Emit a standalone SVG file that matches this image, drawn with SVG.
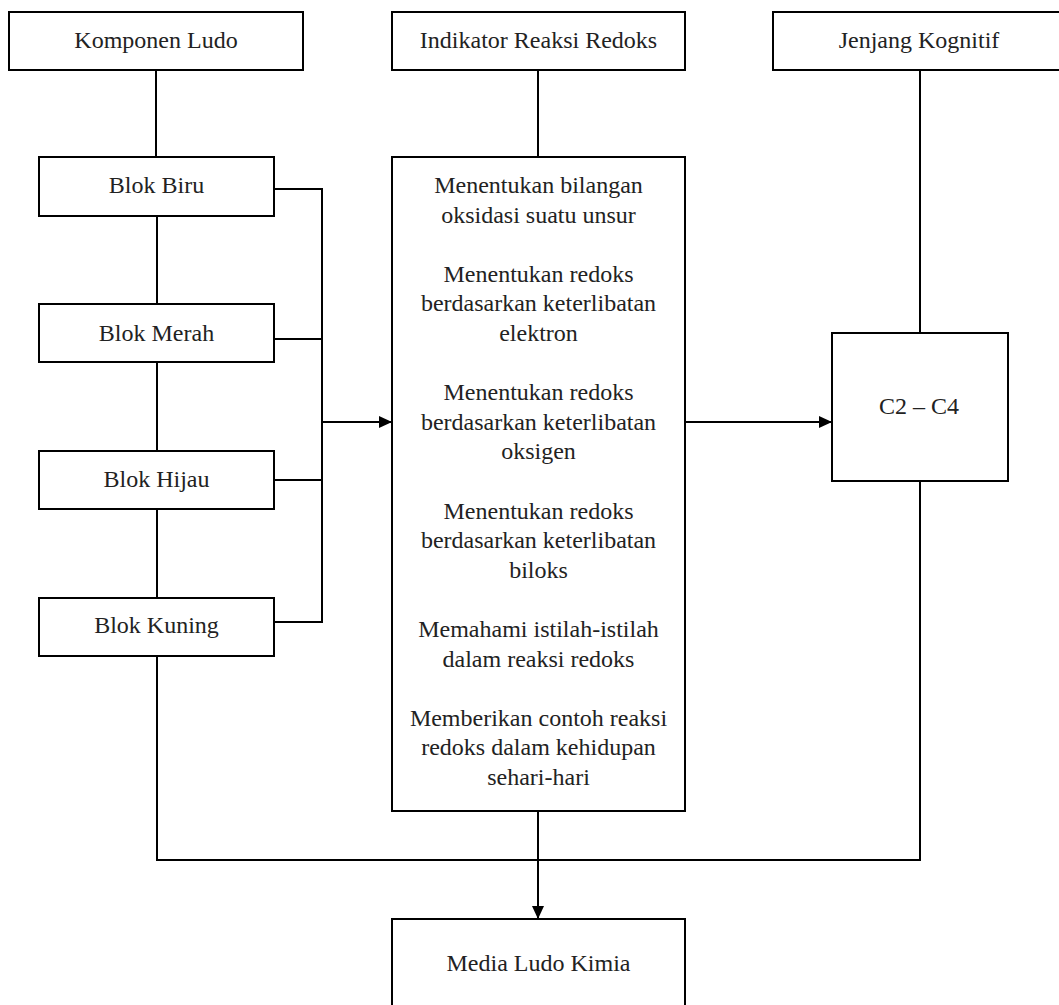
<svg xmlns="http://www.w3.org/2000/svg" width="1059" height="1005" viewBox="0 0 1059 1005">
<style>
.box{fill:#fff;stroke:#000;stroke-width:2}
.ln{fill:none;stroke:#000;stroke-width:2}
.t{font-family:"Times New Roman",Times,"Liberation Serif",Tinos,"DejaVu Serif",serif;font-size:24px;fill:#222;text-anchor:middle}
</style>
<defs>
<marker id="arr" markerUnits="userSpaceOnUse" markerWidth="13" markerHeight="12" refX="13" refY="6" orient="auto">
<path d="M0,0 L13,6 L0,12 z" fill="#000"/>
</marker>
</defs>
<rect width="1059" height="1005" fill="#fff"/>
<g id="connectors">
<path class="ln" d="M156,70 V157"/>
<path class="ln" d="M157,216 V304"/>
<path class="ln" d="M157,362 V451"/>
<path class="ln" d="M157,509 V598"/>
<path class="ln" d="M274,189 H322 V622 H274"/>
<path class="ln" d="M274,339 H322"/>
<path class="ln" d="M274,480 H322"/>
<path class="ln" d="M322,422 H392" marker-end="url(#arr)"/>
<path class="ln" d="M538,70 V157"/>
<path class="ln" d="M920,70 V333"/>
<path class="ln" d="M685,422 H832" marker-end="url(#arr)"/>
<path class="ln" d="M157,656 V860 H920 V481"/>
<path class="ln" d="M538,811 V919" marker-end="url(#arr)"/>
</g>
<g class="t">
<g id="komponen-ludo"><rect class="box" x="9" y="12" width="294" height="58"/><text x="156" y="48">Komponen Ludo</text></g>
<g id="indikator"><rect class="box" x="392" y="12" width="293" height="58"/><text x="538.5" y="48">Indikator Reaksi Redoks</text></g>
<g id="jenjang"><rect class="box" x="773" y="12" width="294" height="58"/><text x="919" y="48">Jenjang Kognitif</text></g>
<g id="blok-biru"><rect class="box" x="39" y="157" width="235" height="59"/><text x="156.5" y="193">Blok Biru</text></g>
<g id="blok-merah"><rect class="box" x="39" y="304" width="235" height="58"/><text x="156.5" y="341">Blok Merah</text></g>
<g id="blok-hijau"><rect class="box" x="39" y="451" width="235" height="58"/><text x="156.5" y="487">Blok Hijau</text></g>
<g id="blok-kuning"><rect class="box" x="39" y="598" width="235" height="58"/><text x="156.5" y="633">Blok Kuning</text></g>
<g id="indikator-list"><rect class="box" x="392" y="157" width="293" height="654"/>
<text x="538.5" y="193">Menentukan bilangan</text>
<text x="538.5" y="222.6">oksidasi suatu unsur</text>
<text x="538.5" y="281.8">Menentukan redoks</text>
<text x="538.5" y="311.4">berdasarkan keterlibatan</text>
<text x="538.5" y="341">elektron</text>
<text x="538.5" y="400.2">Menentukan redoks</text>
<text x="538.5" y="429.8">berdasarkan keterlibatan</text>
<text x="538.5" y="459.4">oksigen</text>
<text x="538.5" y="518.6">Menentukan redoks</text>
<text x="538.5" y="548.2">berdasarkan keterlibatan</text>
<text x="538.5" y="577.8">biloks</text>
<text x="538.5" y="637">Memahami istilah-istilah</text>
<text x="538.5" y="666.6">dalam reaksi redoks</text>
<text x="538.5" y="725.8">Memberikan contoh reaksi</text>
<text x="538.5" y="755.4">redoks dalam kehidupan</text>
<text x="538.5" y="785">sehari-hari</text>
</g>
<g id="c2-c4"><rect class="box" x="832" y="333" width="176" height="148"/><text x="919" y="414">C2 – C4</text></g>
<g id="media-ludo-kimia"><rect class="box" x="392" y="919" width="293" height="100"/><text x="538.5" y="971">Media Ludo Kimia</text></g>
</g>
</svg>
